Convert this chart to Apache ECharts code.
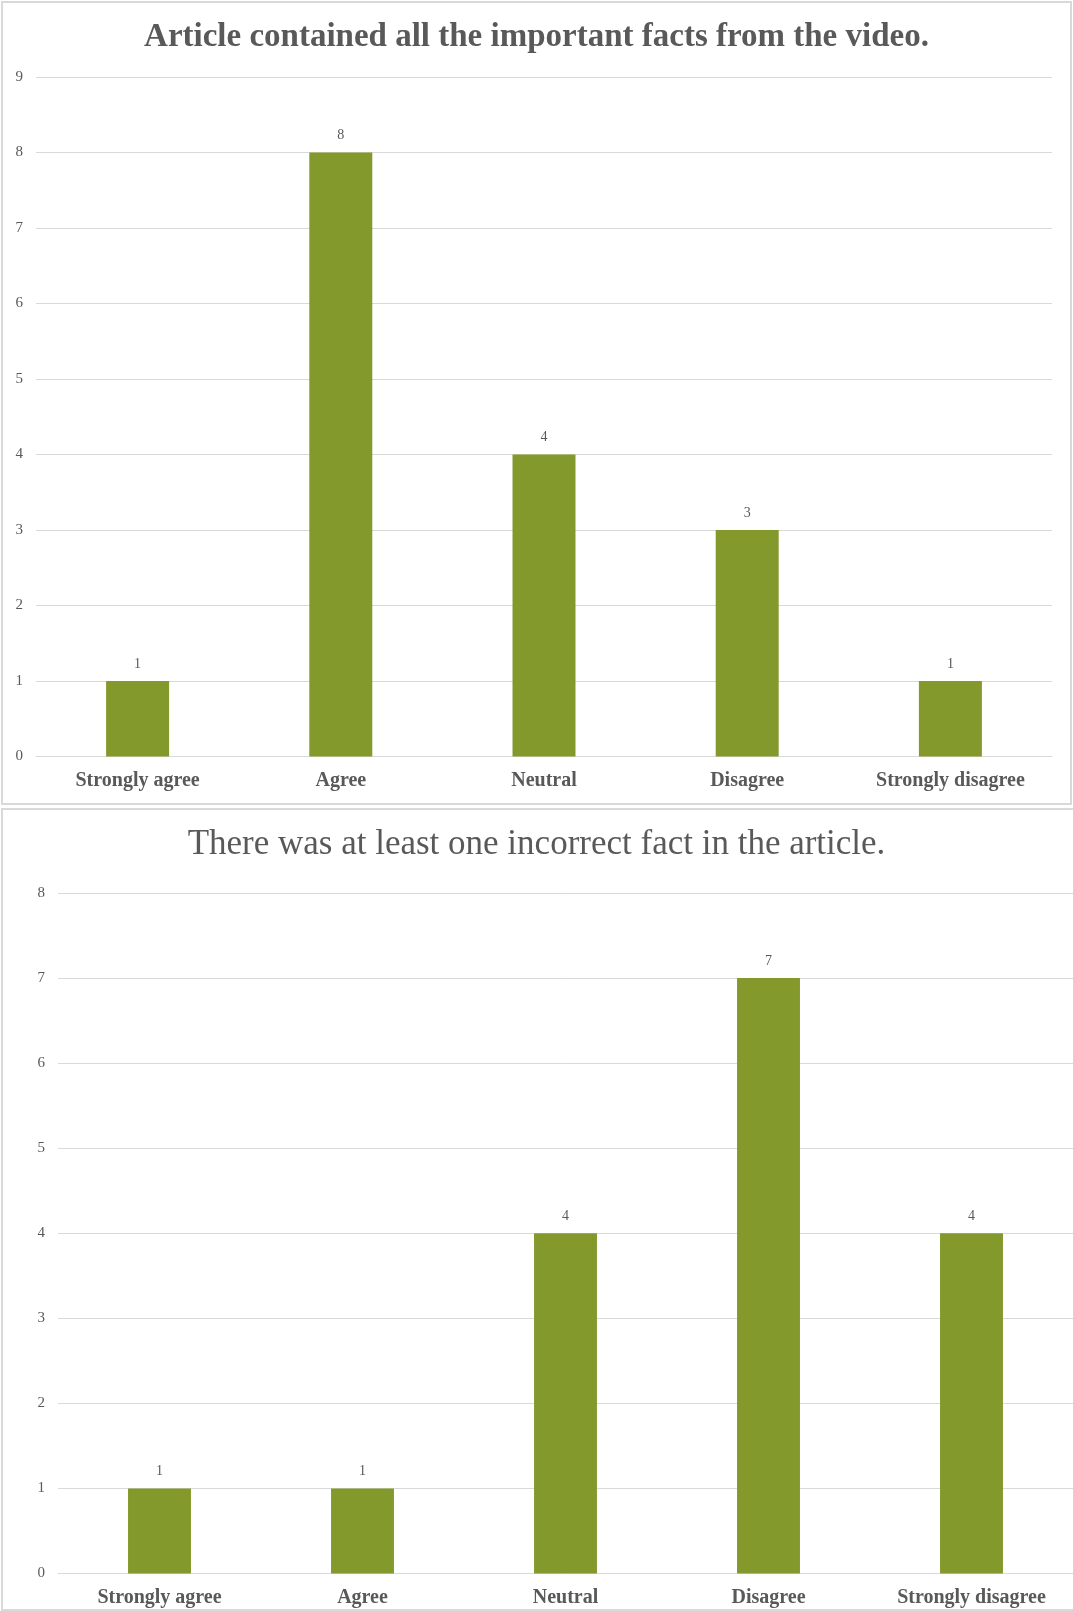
<!DOCTYPE html>
<html>
<head>
<meta charset="utf-8">
<script src="https://cdn.jsdelivr.net/npm/echarts@6/dist/echarts.min.js"></script>
<style>
  html, body { margin: 0; padding: 0; background: #ffffff; }
  #chart { width: 1073px; height: 1611px; }
</style>
</head>
<body>
<div id="chart"></div>
<script>
// Survey answers, one bar per response option
const categories = ['Strongly agree', 'Agree', 'Neutral', 'Disagree', 'Strongly disagree'];
const factsCoveredCounts = [1, 8, 4, 3, 1];
const incorrectFactCounts = [1, 1, 4, 7, 4];
const titles = [
  'Article contained all the important facts from the video.',
  'There was at least one incorrect fact in the article.'
];
const yMax = [9, 8];

const SERIF = '"Liberation Serif", "Times New Roman", serif';
const TEXT = '#595959';
const LINE = '#d9d9d9';
const BAR = '#84992c';

function yAxis(idx) {
  return {
    type: 'value', gridIndex: idx, min: 0, max: yMax[idx], interval: 1,
    axisLine: { show: false }, axisTick: { show: false },
    axisLabel: { color: TEXT, fontFamily: SERIF, fontSize: 15, margin: 13 },
    splitLine: { lineStyle: { color: LINE, width: 1 } }
  };
}
function xAxis(idx) {
  return {
    type: 'category', gridIndex: idx, data: categories,
    axisLine: { lineStyle: { color: LINE, width: 1 } },
    axisTick: { show: false },
    axisLabel: { color: TEXT, fontFamily: SERIF, fontSize: 20, fontWeight: 'bold', margin: 14, interval: 0 }
  };
}
function barSeries(idx, values) {
  return {
    type: 'bar', xAxisIndex: idx, yAxisIndex: idx, data: values,
    barWidth: '31%',
    itemStyle: { color: BAR },
    label: { show: true, position: 'top', distance: 10, color: TEXT, fontFamily: SERIF, fontSize: 14 },
    silent: true
  };
}

const chart = echarts.init(document.getElementById('chart'), null, { renderer: 'canvas' });
chart.setOption({
  backgroundColor: '#ffffff',
  animation: false,
  graphic: [
    { type: 'rect', shape: { x: 2, y: 2, width: 1069, height: 802 }, style: { fill: 'none', stroke: LINE, lineWidth: 2 }, z: -1 },
    { type: 'rect', shape: { x: 2, y: 809, width: 1090, height: 801 }, style: { fill: 'none', stroke: LINE, lineWidth: 2 }, z: -1 }
  ],
  title: [
    { text: titles[0], left: 'center', top: 16,
      textStyle: { color: TEXT, fontFamily: SERIF, fontSize: 33, fontWeight: 'bold' } },
    { text: titles[1], left: 'center', top: 822,
      textStyle: { color: TEXT, fontFamily: SERIF, fontSize: 35, fontWeight: 'normal' } }
  ],
  grid: [
    { left: 36, right: 21, top: 77, bottom: 854.5, containLabel: false },
    { left: 58, right: 0, top: 893, bottom: 37.5, containLabel: false }
  ],
  xAxis: [xAxis(0), xAxis(1)],
  yAxis: [yAxis(0), yAxis(1)],
  series: [barSeries(0, factsCoveredCounts), barSeries(1, incorrectFactCounts)]
});
</script>
</body>
</html>
